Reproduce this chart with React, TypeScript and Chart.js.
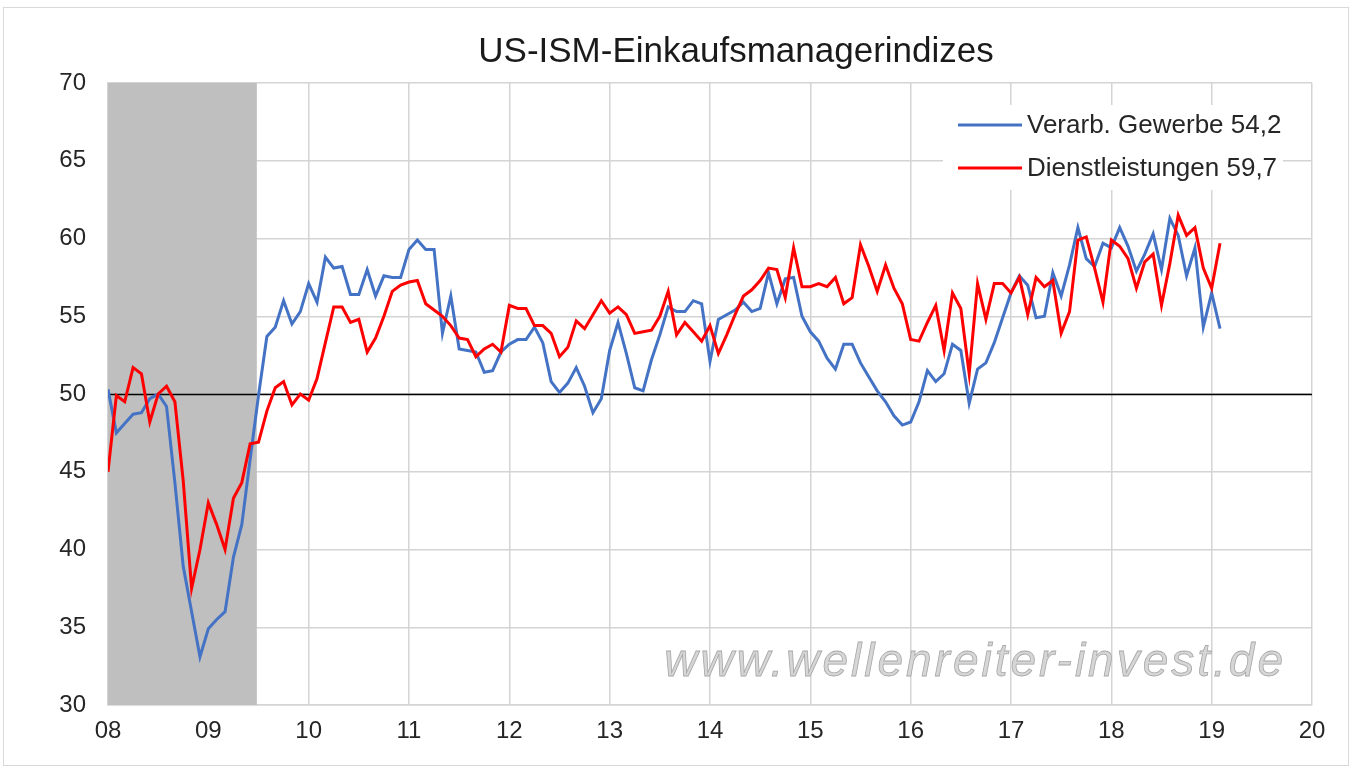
import React, { useEffect, useRef } from "react";
import { Chart, registerables } from "chart.js";

Chart.register(...registerables);

// ---------- data ----------
const chartTitle = "US-ISM-Einkaufsmanagerindizes";
const watermarkText = "www.wellenreiter-invest.de";
const seriesNames = ["Verarb. Gewerbe 54,2", "Dienstleistungen 59,7"];
const xTickLabels = ["08", "09", "10", "11", "12", "13", "14", "15", "16", "17", "18", "19", "20"];
const yMin = 30;
const yMax = 70;
const yStep = 5;
const referenceLevel = 50;
// recession shading, in months since Jan 2008
const recessionStart = 0;
const recessionEnd = 17.8;

// monthly values Jan 2008 .. Feb 2019
const manufacturing = [
  50.3, 47.5, 48.1, 48.7, 48.8, 49.7, 50.0, 49.2, 44.3, 38.9, 36.0, 33.1,
  34.9, 35.5, 36.0, 39.5, 41.6, 45.8, 49.9, 53.7, 54.3, 56.0, 54.5, 55.3,
  57.1, 55.9, 58.8, 58.1, 58.2, 56.4, 56.4, 58.0, 56.3, 57.6, 57.5, 57.5,
  59.3, 59.9, 59.3, 59.3, 53.9, 56.3, 52.9, 52.8, 52.7, 51.4, 51.5, 52.7,
  53.2, 53.5, 53.5, 54.3, 53.3, 50.8, 50.1, 50.7, 51.7, 50.5, 48.8, 49.7,
  52.8, 54.6, 52.6, 50.4, 50.2, 52.2, 53.8, 55.6, 55.3, 55.3, 56.0, 55.8,
  52.1, 54.8, 55.1, 55.4, 55.9, 55.3, 55.5, 57.8, 55.8, 57.4, 57.5, 55.0,
  54.0, 53.4, 52.3, 51.6, 53.2, 53.2, 52.0, 51.1, 50.2, 49.5, 48.6, 48.0,
  48.2, 49.5, 51.5, 50.8, 51.3, 53.2, 52.8, 49.4, 51.6, 52.0, 53.3, 54.9,
  56.5, 57.6, 57.0, 54.9, 55.0, 57.8, 56.3, 58.3, 60.7, 58.7, 58.2, 59.7,
  59.4, 60.7, 59.5, 57.9, 59.0, 60.3, 58.0, 61.3, 60.2, 57.6, 59.4, 54.3,
  56.5, 54.2,
];

const services = [
  45.0, 49.9, 49.5, 51.7, 51.3, 48.2, 50.0, 50.5, 49.5, 44.4, 37.5, 40.0,
  43.0, 41.6, 40.0, 43.3, 44.3, 46.8, 46.9, 48.9, 50.4, 50.8, 49.3, 50.0,
  49.6, 51.0, 53.3, 55.6, 55.6, 54.6, 54.8, 52.7, 53.6, 55.0, 56.6, 57.0,
  57.2, 57.3, 55.8, 55.4, 55.0, 54.4, 53.6, 53.5, 52.4, 52.9, 53.2, 52.7,
  55.7, 55.5, 55.5, 54.4, 54.4, 53.9, 52.4, 53.0, 54.7, 54.2, 55.1, 56.0,
  55.2, 55.6, 55.1, 53.9, 54.0, 54.1, 55.0, 56.6, 53.8, 54.6, 54.0, 53.4,
  54.4, 52.6, 53.8, 55.1, 56.3, 56.7, 57.3, 58.1, 58.0, 56.2, 59.4, 56.9,
  56.9, 57.1, 56.9, 57.5, 55.8, 56.2, 59.6, 58.2, 56.6, 58.3, 56.8, 55.8,
  53.5, 53.4, 54.6, 55.7, 52.8, 56.5, 55.5, 51.3, 57.1, 54.8, 57.1, 57.1,
  56.5, 57.5, 55.1, 57.5, 56.9, 57.3, 53.9, 55.3, 59.9, 60.1, 58.1, 55.9,
  59.9, 59.5, 58.7, 56.8, 58.5, 59.0, 55.7, 58.4, 61.5, 60.2, 60.7, 58.1,
  56.8, 59.7,
];

const seriesColors = ["#4472C4", "#FF0000"];

const FONT = "'Liberation Sans', Arial, Helvetica, sans-serif";

const decorPlugin = {
  id: "decor",
  beforeDatasetsDraw(chart: any) {
    const { ctx, chartArea, scales } = chart;
    const x = scales.x;
    const y = scales.y;
    ctx.save();
    // recession shading
    const x0 = x.getPixelForValue(recessionStart);
    const x1 = x.getPixelForValue(recessionEnd);
    ctx.fillStyle = "#bfbfbf";
    ctx.fillRect(x0, chartArea.top, x1 - x0, chartArea.bottom - chartArea.top);
    // watermark
    ctx.font = `italic 46px ${FONT}`;
    try {
      (ctx as any).letterSpacing = "3px";
    } catch (e) {}
    ctx.textAlign = "right";
    ctx.textBaseline = "alphabetic";
    ctx.fillStyle = "#d6d6d6";
    ctx.strokeStyle = "#a8a8a8";
    ctx.lineWidth = 0.8;
    ctx.fillText(watermarkText, 1286, 676);
    ctx.strokeText(watermarkText, 1286, 676);
    try {
      (ctx as any).letterSpacing = "0px";
    } catch (e) {}
    // reference line at 50
    const yr = Math.round(y.getPixelForValue(referenceLevel)) + 0.5;
    ctx.strokeStyle = "#000000";
    ctx.lineWidth = 1.5;
    ctx.beginPath();
    ctx.moveTo(chartArea.left, yr);
    ctx.lineTo(chartArea.right, yr);
    ctx.stroke();
    ctx.restore();
  },
  afterDraw(chart: any) {
    const { ctx } = chart;
    ctx.save();
    // title
    ctx.font = `35px ${FONT}`;
    ctx.fillStyle = "#1a1a1a";
    ctx.textAlign = "center";
    ctx.textBaseline = "alphabetic";
    ctx.fillText(chartTitle, 736, 62);
    // legend
    ctx.fillStyle = "#ffffff";
    ctx.fillRect(943, 105, 340, 85);
    const rows = [125, 168];
    ctx.font = `26px ${FONT}`;
    ctx.textAlign = "left";
    ctx.textBaseline = "middle";
    seriesNames.forEach((name, i) => {
      ctx.strokeStyle = seriesColors[i];
      ctx.lineWidth = 3;
      ctx.beginPath();
      ctx.moveTo(958, rows[i]);
      ctx.lineTo(1022, rows[i]);
      ctx.stroke();
      ctx.fillStyle = "#262626";
      ctx.fillText(name, 1027, rows[i] + 1);
    });
    ctx.restore();
  },
};

export default function App() {
  const canvasRef = useRef<HTMLCanvasElement | null>(null);

  useEffect(() => {
    if (!canvasRef.current) return;
    const chart = new Chart(canvasRef.current, {
      type: "line",
      data: {
        datasets: [
          {
            label: seriesNames[0],
            data: manufacturing.map((v, i) => ({ x: i, y: v })),
            borderColor: seriesColors[0],
            backgroundColor: seriesColors[0],
            borderWidth: 3,
            pointRadius: 0,
            tension: 0,
            order: 1,
          },
          {
            label: seriesNames[1],
            data: services.map((v, i) => ({ x: i, y: v })),
            borderColor: seriesColors[1],
            backgroundColor: seriesColors[1],
            borderWidth: 3,
            pointRadius: 0,
            tension: 0,
            order: 0,
          },
        ],
      },
      options: {
        animation: false,
        responsive: true,
        maintainAspectRatio: false,
        layout: { padding: { left: 0, right: 42, top: 83, bottom: 0 } },
        plugins: {
          legend: { display: false },
          title: { display: false },
          tooltip: { enabled: false },
        },
        scales: {
          x: {
            type: "linear",
            min: 0,
            max: (xTickLabels.length - 1) * 12,
            afterFit: (scale: any) => {
              scale.height = 68;
            },
            ticks: {
              stepSize: 12,
              autoSkip: false,
              maxRotation: 0,
              padding: 12,
              color: "#262626",
              font: { family: FONT, size: 24 },
              callback: (v: any) => xTickLabels[Math.round(Number(v) / 12)] ?? "",
            },
            grid: { color: "#d4d4d4", lineWidth: 1.5, drawTicks: false },
            border: { color: "#d4d4d4", width: 1.5 },
          },
          y: {
            min: yMin,
            max: yMax,
            afterFit: (scale: any) => {
              scale.width = 108;
            },
            ticks: {
              stepSize: yStep,
              padding: 22,
              color: "#262626",
              font: { family: FONT, size: 24 },
            },
            grid: { color: "#d4d4d4", lineWidth: 1.5, drawTicks: false },
            border: { color: "#d4d4d4", width: 1.5 },
          },
        },
      },
      plugins: [decorPlugin],
    });
    return () => chart.destroy();
  }, []);

  return (
    <div style={{ position: "absolute", left: 0, top: 0, width: 1354, height: 773, background: "#ffffff" }}>
      <canvas ref={canvasRef} />
      <div
        style={{
          position: "absolute",
          left: 3,
          top: 7,
          width: 1344,
          height: 757,
          border: "1px solid #d9d9d9",
          pointerEvents: "none",
        }}
      />
    </div>
  );
}
